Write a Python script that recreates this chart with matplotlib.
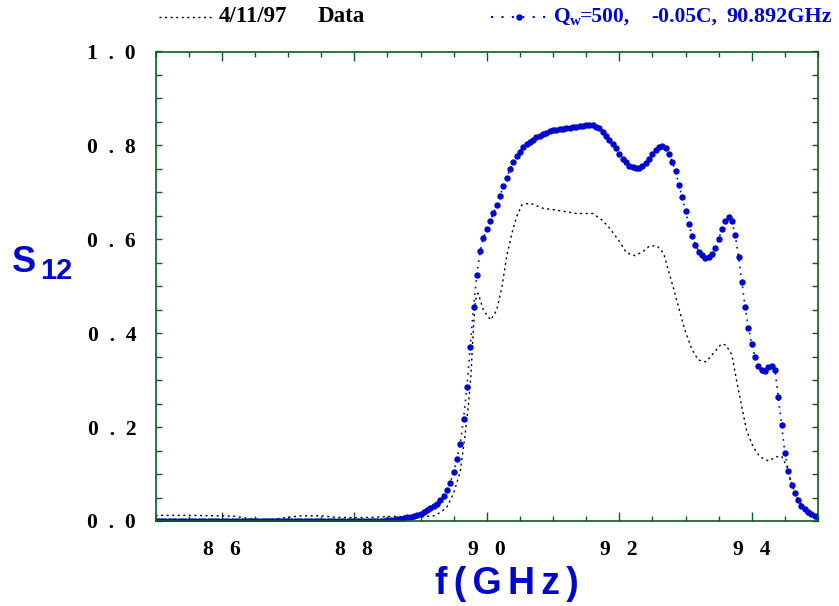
import numpy as np
import matplotlib
matplotlib.use("Agg")
import matplotlib.pyplot as plt
from matplotlib.lines import Line2D
from matplotlib.ticker import MultipleLocator, FuncFormatter

# measured data (4/11/97), frequency in GHz
data_freq = [85.0, 85.5, 86.0, 86.2, 86.4, 86.6, 86.8, 87.0, 87.2, 87.5, 87.7, 88.0,
             88.3, 88.6, 88.8, 89.0, 89.2, 89.3, 89.4, 89.5, 89.6, 89.67, 89.72, 89.76,
             89.8, 89.83, 89.87, 89.95, 90.06, 90.15, 90.23, 90.3, 90.38, 90.45, 90.53,
             90.65, 90.85, 91.1, 91.35, 91.6, 91.74, 91.86, 91.99, 92.11, 92.24, 92.36,
             92.46, 92.57, 92.67, 92.74, 92.84, 92.92, 92.99, 93.09, 93.19, 93.31, 93.42,
             93.54, 93.61, 93.7, 93.77, 93.85, 93.92, 94.02, 94.12, 94.25, 94.38, 94.45,
             94.53, 94.6, 94.68, 94.75, 94.85, 95.0]
data_s12 = [0.012, 0.012, 0.011, 0.010, 0.005, 0.003, 0.004, 0.008, 0.011, 0.011, 0.008, 0.007,
            0.008, 0.010, 0.009, 0.009, 0.011, 0.018, 0.030, 0.059, 0.105, 0.180, 0.243, 0.307,
            0.414, 0.471, 0.485, 0.449, 0.428, 0.449, 0.499, 0.563, 0.613, 0.648, 0.673,
            0.677, 0.666, 0.661, 0.655, 0.655, 0.641, 0.623, 0.598, 0.571, 0.565, 0.574,
            0.586, 0.586, 0.570, 0.535, 0.485, 0.442, 0.407, 0.368, 0.343, 0.339, 0.357,
            0.377, 0.375, 0.354, 0.300, 0.243, 0.194, 0.158, 0.137, 0.128, 0.137, 0.138,
            0.116, 0.080, 0.052, 0.035, 0.020, 0.009]

# model: Qw=500, -0.05C, 90.892GHz, one point every 0.05 GHz from 85 to 95
model_s12 = [
    0, 0, 0, 0, 0, 0, 0, 0, 0, 0,
    0, 0, 0, 0, 0, 0, 0, 0, 0, 0,
    0, 0, 0, 0, 0, 0, 0, 0, 0, 0,
    0, 0, 0, 0, 0, 0, 0, 0, 0, 0,
    0, 0, 0, 0, 0, 0, 0, 0, 0, 0,
    0, 0, 0, 0, 0, 0, 0, 0, 0, 0,
    0, 0, 0, 0, 0, 0, .001, .001, .001, .001,
    .002, .002, .003, .004, .005, .006, .008, .009, .011, .013,
    .015, .019, .023, .027, .032, .037, .044, .053, .065, .082,
    .105, .132, .165, .218, .285, .370, .455, .525, .575, .602,
    .622, .638, .655, .673, .693, .713, .731, .749, .765, .777,
    .787, .796, .802, .808, .812, .817, .821, .824, .827, .830,
    .832, .833, .834, .835, .836, .837, .839, .840, .841, .842,
    .843, .844, .843, .840, .836, .829, .821, .812, .803, .794,
    .782, .772, .764, .757, .753, .751, .752, .757, .763, .771,
    .782, .791, .797, .799, .795, .782, .765, .745, .716, .690,
    .660, .632, .608, .588, .574, .566, .561, .563, .569, .582,
    .600, .621, .640, .648, .640, .609, .563, .510, .456, .412,
    .376, .349, .331, .322, .320, .327, .331, .322, .265, .205,
    .145, .106, .077, .060, .044, .033, .025, .019, .015, .011,
    .009]
model_freq = 85 + 0.05 * np.arange(len(model_s12))

BLUE = "#0008d0"
GREEN = "#0b5e1e"
SERIF = "Liberation Serif"
SANS = ["Liberation Sans", "DejaVu Sans"]

plt.rcParams["mathtext.fontset"] = "custom"
plt.rcParams["mathtext.rm"] = "Liberation Serif:bold"
plt.rcParams["mathtext.it"] = "Liberation Serif:bold"

fig = plt.figure(figsize=(8.39, 6.06), dpi=100)
ax = fig.add_axes([155.5 / 839, 85 / 606, 662.5 / 839, 469.5 / 606])

ax.plot(data_freq, data_s12, color="black", lw=1.0, ls=(0, (1.5, 2.5)))
ax.plot(model_freq, model_s12, color=BLUE, lw=1.2, ls=(0, (1, 3)),
        marker="o", ms=3.6, mec=BLUE, mfc=BLUE)

ax.set_xlim(85, 95)
ax.set_ylim(0, 1.0)
ax.xaxis.set_major_locator(MultipleLocator(2))
ax.xaxis.set_minor_locator(MultipleLocator(0.5))
ax.yaxis.set_major_locator(MultipleLocator(0.2))
ax.yaxis.set_minor_locator(MultipleLocator(0.05))

ax.xaxis.set_major_formatter(FuncFormatter(lambda v, p: "   ".join(f"{v:.0f}")))
ax.yaxis.set_major_formatter(FuncFormatter(lambda v, p: "  ".join(f"{v:.1f}")))

for s in ax.spines.values():
    s.set_color(GREEN)
    s.set_linewidth(1.2)
ax.tick_params(which="both", direction="in", color=GREEN, width=1.0,
               top=True, right=True)
ax.tick_params(axis="x", which="major", length=6.5, pad=14)
ax.tick_params(axis="x", which="minor", length=3.6)
ax.tick_params(axis="y", which="both", length=4.5, pad=14)
for lab in ax.get_xticklabels() + ax.get_yticklabels():
    lab.set_fontfamily(SERIF)
    lab.set_fontweight("bold")
    lab.set_fontsize(15.5)

# axis labels (letter-spaced like the original)
fig.text(507 / 839, 1 - 584 / 606, "\u2006".join("f(GHz)"), color=BLUE,
         fontfamily=SANS, fontweight="bold", fontsize=27, ha="center", va="center")
fig.text(12 / 839, 1 - 262 / 606, "S", color=BLUE, fontfamily=SANS,
         fontweight="bold", fontsize=26, ha="left", va="center")
fig.text(40 / 839, 1 - 271 / 606, "12", color=BLUE, fontfamily=SANS,
         fontweight="bold", fontsize=21, ha="left", va="center")

# legend across the top
ly = 1 - 17 / 606
fig.add_artist(Line2D([159 / 839, 214 / 839], [ly, ly], transform=fig.transFigure,
                      color="black", lw=1.0, ls=(0, (1.5, 2.5))))
fig.add_artist(Line2D([491 / 839, 548 / 839], [ly, ly], transform=fig.transFigure,
                      color=BLUE, lw=1.5, ls=(0, (1, 4))))
fig.add_artist(Line2D([519 / 839], [ly], transform=fig.transFigure,
                      color=BLUE, marker="o", ms=3.6, ls="none"))
legend_items = [(219, "4/11/97", "black", 16.5), (318, "Data", "black", 16.5),
                (553, r"Q$_\mathrm{w}$", BLUE, 15.5), (580, "=500,", BLUE, 15.5),
                (651, "-0.05C,", BLUE, 15.5), (726, "90.892GHz", BLUE, 16)]
for px, txt, col, fs in legend_items:
    fig.text(px / 839, ly, txt, color=col, fontfamily=SERIF, fontweight="bold",
             fontsize=fs, ha="left", va="center")

fig.savefig("out.png", dpi=100)
